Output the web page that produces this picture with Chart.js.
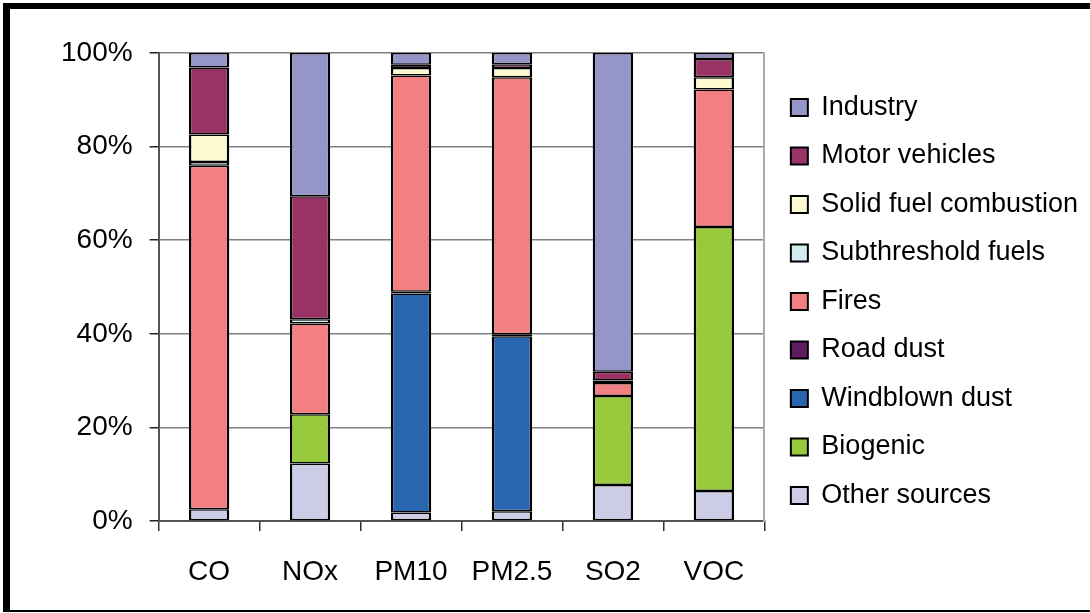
<!DOCTYPE html>
<html lang="en">
<head>
  <meta charset="UTF-8">
  <title>Emission sources by pollutant</title>
  <script src="https://cdn.jsdelivr.net/npm/chart.js"></script>
  <style>
    * { margin: 0; padding: 0; box-sizing: border-box; }
    body { width: 1090px; height: 613px; background: #fff; overflow: hidden; position: relative; }
    .frame {
      position: absolute;
      left: 3px; top: 3px;
      width: 1087px; height: 609px;
      border-left: 7px solid #000;
      border-top: 6px solid #000;
      border-bottom: 2px solid #000;
    }
    #chart { position: absolute; left: 0; top: 0; }
  </style>
</head>
<body>
  <div class="frame"></div>
  <canvas id="chart" width="1090" height="613"></canvas>

  <script>
    // pollutants on the x axis
    const categories = ['CO', 'NOx', 'PM10', 'PM2.5', 'SO2', 'VOC'];

    // share of each source, % (stacked bottom to top)
    const otherSources   = [2.5, 12.3, 1.8, 2.1, 7.7, 6.4];
    const biogenic       = [0, 10.5, 0, 0, 19.0, 56.4];
    const windblownDust  = [0, 0, 46.8, 37.4, 0, 0];
    const roadDust       = [0, 0, 0.4, 0.4, 0, 0];
    const fires          = [73.4, 19.4, 46.2, 54.9, 2.8, 29.4];
    const subthreshold   = [0.8, 0.9, 0, 0, 0, 0];
    const solidFuel      = [5.9, 0, 1.6, 2.0, 0.5, 2.6];
    const motorVehicles  = [14.3, 26.3, 0.7, 0.8, 1.9, 3.9];
    const industry       = [3.1, 30.6, 2.5, 2.4, 68.1, 1.3];

    const yTicks = [0, 20, 40, 60, 80, 100];

    const font = 'Liberation Sans, Arial, sans-serif';

    function series(label, data, color) {
      return {
        label: label,
        data: data,
        backgroundColor: color,
        borderColor: '#000',
        borderWidth: { top: 1.5, bottom: 1.5, left: 2.5, right: 2.5 },
        borderSkipped: false,
        barPercentage: 0.4,
        categoryPercentage: 1.0
      };
    }

    const ctx = document.getElementById('chart').getContext('2d');
    new Chart(ctx, {
      type: 'bar',
      data: {
        labels: categories,
        datasets: [
          series('Other sources', otherSources, '#CCCCE6'),
          series('Biogenic', biogenic, '#99C93C'),
          series('Windblown dust', windblownDust, '#2A66B0'),
          series('Road dust', roadDust, '#5E1B60'),
          series('Fires', fires, '#F28083'),
          series('Subthreshold fuels', subthreshold, '#D2ECF1'),
          series('Solid fuel combustion', solidFuel, '#FCF9D0'),
          series('Motor vehicles', motorVehicles, '#993366'),
          series('Industry', industry, '#9595C8')
        ]
      },
      options: {
        responsive: false,
        animation: false,
        layout: { padding: { left: 44, top: 53, right: 2, bottom: 0 } },
        plugins: {
          tooltip: { enabled: false },
          legend: {
            position: 'right',
            align: 'start',
            reverse: true,
            maxWidth: 330,
            // empty title used only as a spacer above the items
            title: { display: true, text: '', font: { size: 10, lineHeight: 1 }, padding: { top: 0, bottom: 9.5 } },
            labels: {
              boxWidth: 17,
              boxHeight: 17,
              padding: 21.5,
              color: '#000',
              font: { family: font, size: 27 }
            }
          }
        },
        scales: {
          x: {
            stacked: true,
            grid: {
              display: true,
              drawOnChartArea: false,
              drawTicks: true,
              tickLength: 10,
              tickColor: '#333',
              lineWidth: 1.5
            },
            border: { color: '#555', width: 2 },
            ticks: {
              color: '#000',
              padding: 27,
              font: { family: font, size: 28, lineHeight: 1 }
            }
          },
          y: {
            stacked: true,
            min: 0,
            max: 100,
            afterBuildTicks: axis => { axis.ticks = yTicks.map(v => ({ value: v })); },
            grid: {
              color: '#808080',
              lineWidth: 1.5,
              tickLength: 9,
              tickColor: '#222'
            },
            border: { color: '#555', width: 2 },
            ticks: {
              color: '#000',
              padding: 17,
              font: { family: font, size: 28 },
              callback: v => v + '%'
            }
          },
          y2: {
            position: 'right',
            min: 0,
            max: 100,
            afterFit: axis => { axis.width = 5; },
            grid: { drawOnChartArea: false, drawTicks: false },
            border: { color: '#aaa', width: 2 },
            ticks: { display: false }
          }
        }
      }
    });
  </script>
</body>
</html>
